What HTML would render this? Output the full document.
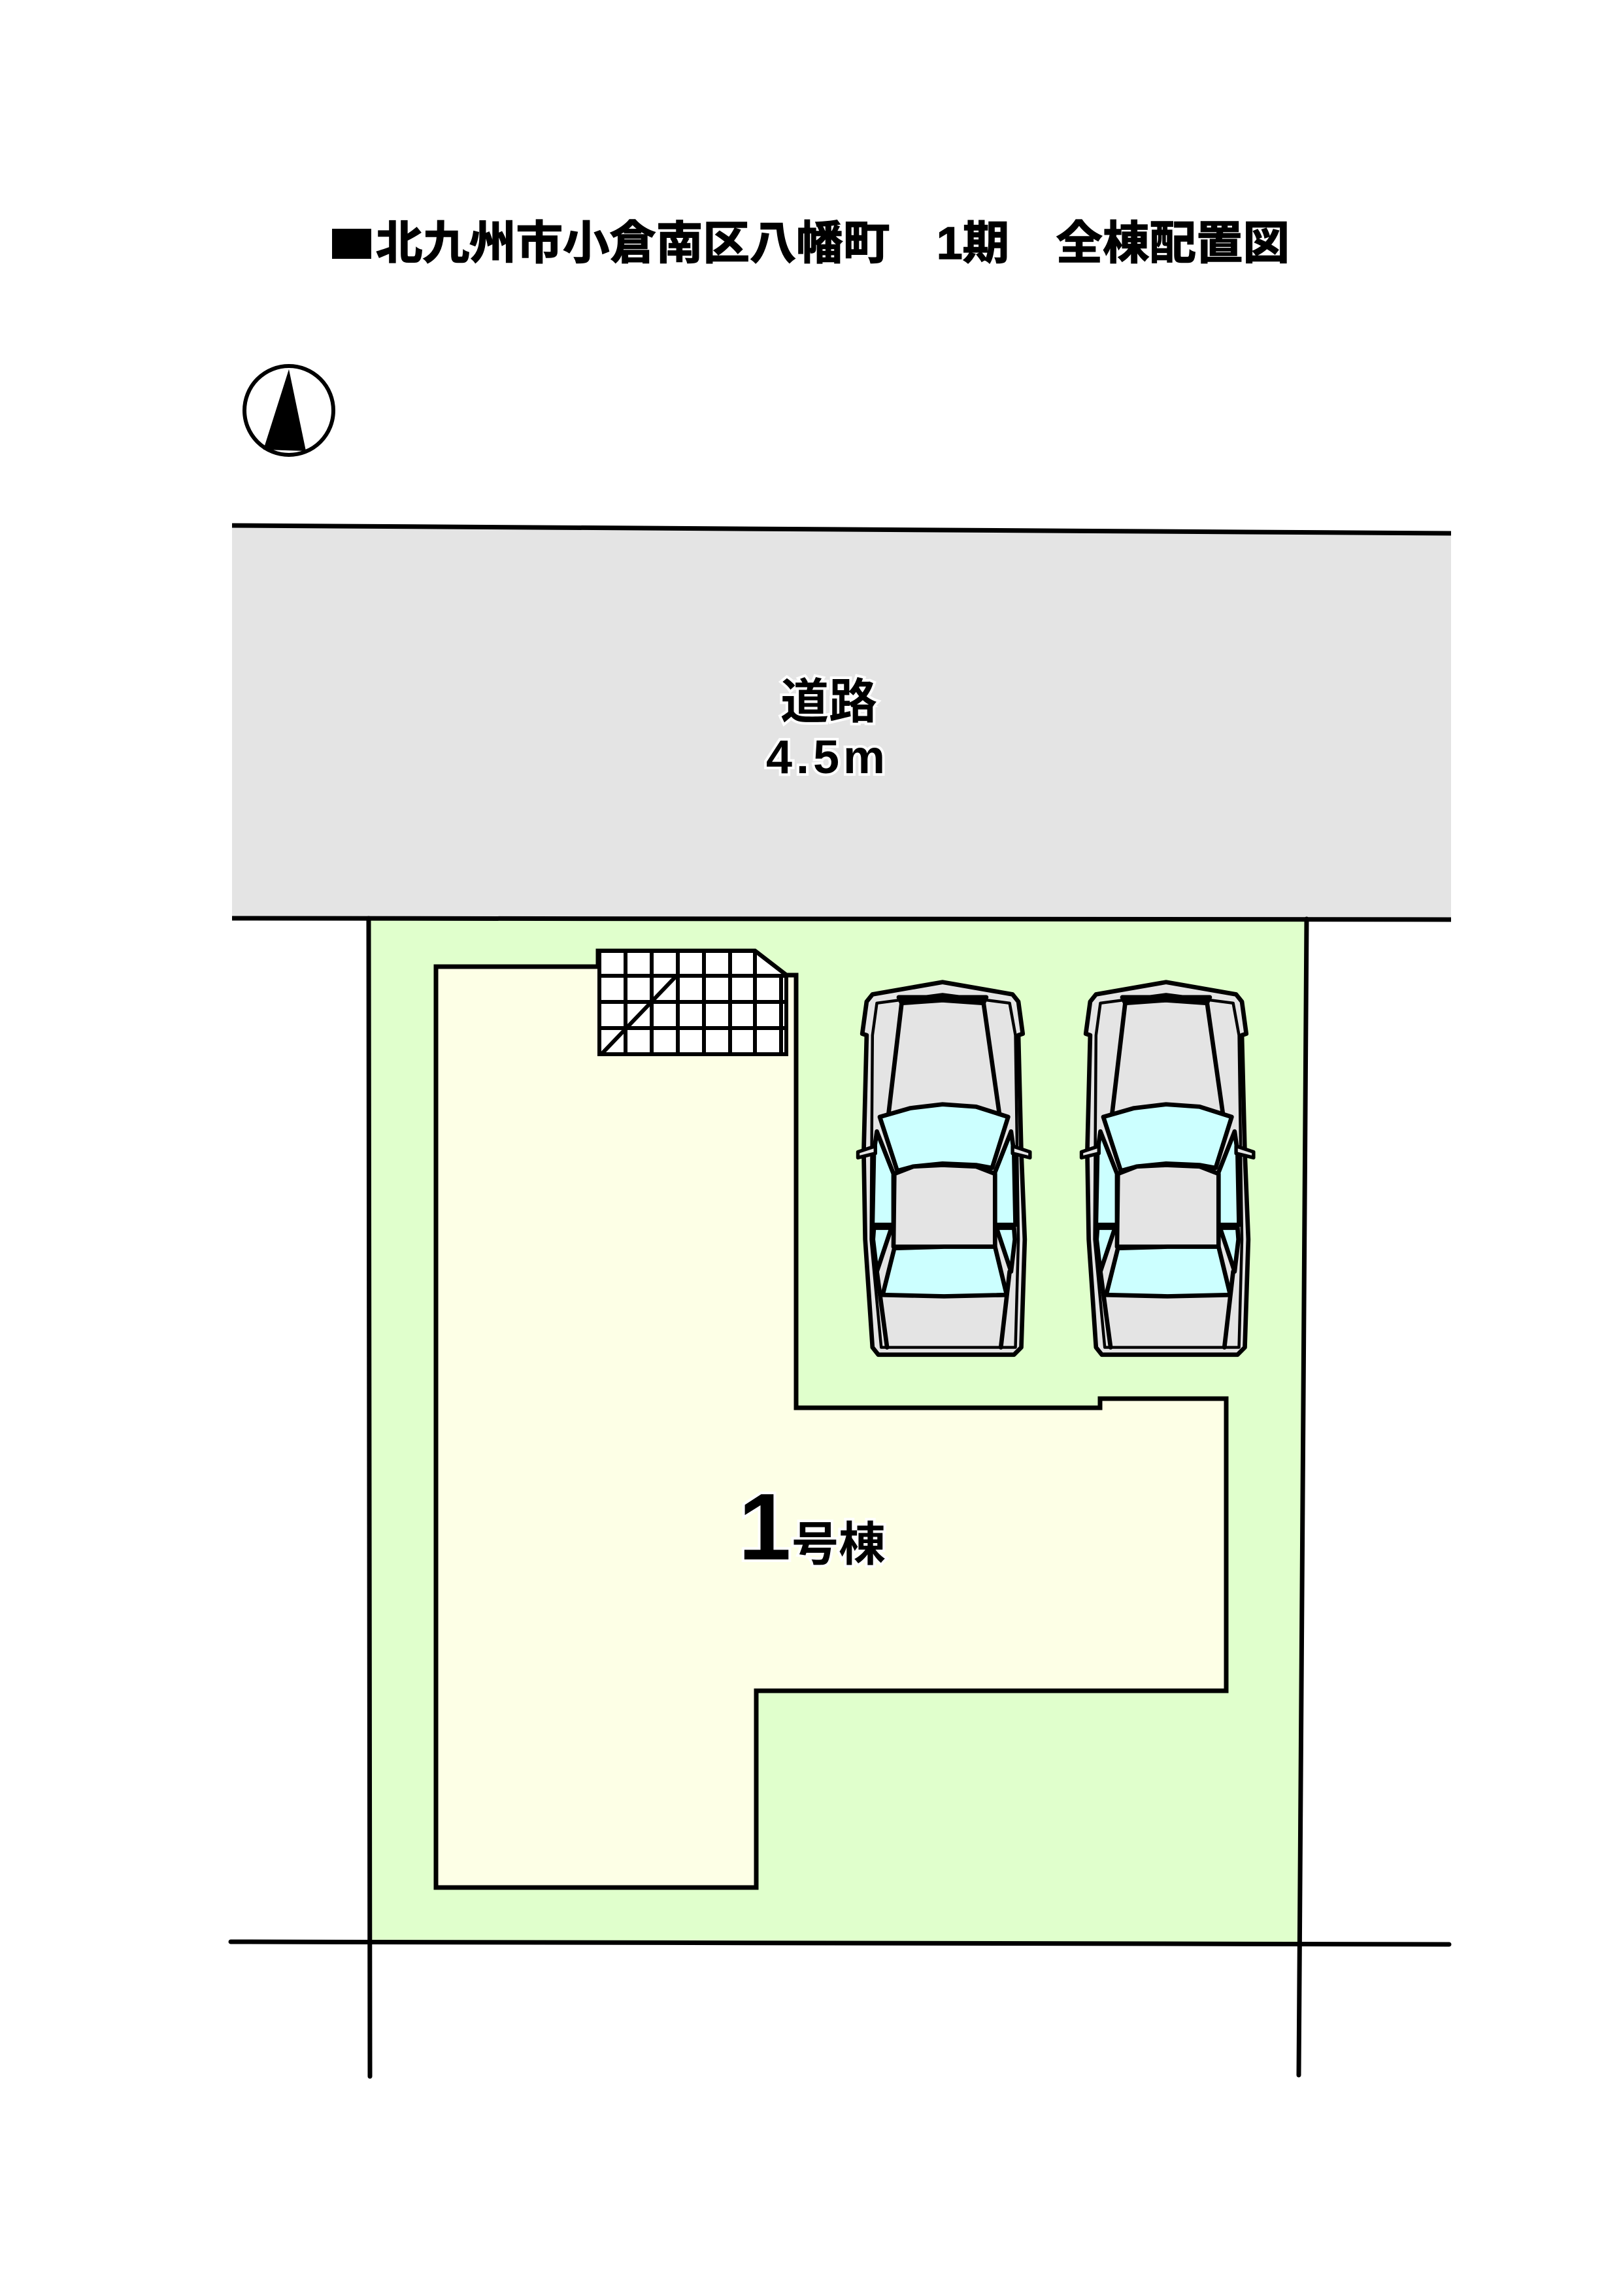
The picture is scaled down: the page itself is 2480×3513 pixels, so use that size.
<!DOCTYPE html>
<html><head><meta charset="utf-8"><style>
html,body{margin:0;padding:0;background:#fff}
body{width:2480px;height:3508px;overflow:hidden}
</style></head><body>
<svg width="2480" height="3508" viewBox="0 0 2480 3508" xmlns="http://www.w3.org/2000/svg">
<defs>
<g id="car" stroke="#000" stroke-width="15" stroke-linejoin="round" stroke-linecap="round">
  <path d="M190,160 L430,118 L670,160 L690,185 L705,295 L690,300 L700,700 L712,1000 L700,1370 L675,1395 L210,1395 L190,1370 L165,1000 L160,700 L170,300 L155,295 L170,185 Z" fill="#e4e4e4"/>
  <path d="M205,190 L430,160 L660,190 L680,300 L690,1000 L680,1370 L220,1370 L185,1000 L190,300 Z" fill="none" stroke-width="10"/>
  <path d="M280,170 L580,170 L570,190 L430,180 L290,190 Z" fill="#000"/>
  <path d="M205,630 L262,775 L262,950 L190,950 L195,700 Z" fill="#ccffff"/>
  <path d="M665,630 L608,775 L608,950 L680,950 L675,700 Z" fill="#ccffff"/>
  <path d="M195,960 L255,960 L205,1110 L192,1000 Z" fill="#ccffff"/>
  <path d="M675,960 L615,960 L665,1110 L678,1000 Z" fill="#ccffff"/>
  <path d="M215,580 L320,550 L430,537 L545,545 L655,580 L600,755 L545,745 L430,740 L330,750 L275,765 Z" fill="#ccffff"/>
  <path d="M265,775 L330,750 L430,745 L545,750 L610,775 L610,1025 L262,1025 Z" fill="#e4e4e4"/>
  <path d="M265,1030 L435,1025 L610,1025 L650,1190 L435,1195 L225,1190 Z" fill="#ccffff"/>
  <path d="M290,190 L245,570 M570,185 L625,570 M205,1110 L240,1370 M660,1110 L630,1370" fill="none"/>
  <path d="M200,680 L140,700 L140,720 L200,705 Z M670,680 L730,700 L730,720 L670,705 Z" fill="#e4e4e4" stroke-width="12"/>
</g>
</defs>
<rect x="508" y="350" width="60" height="46" fill="#000"/>
<text x="575" y="396" textLength="1398" lengthAdjust="spacingAndGlyphs" font-family="Liberation Sans, Noto Sans CJK JP, sans-serif" font-weight="bold" font-size="70" fill="#000" stroke="#000" stroke-width="1.5">北九州市小倉南区八幡町　1期　全棟配置図</text>
<circle cx="442" cy="628" r="68" fill="#fff" stroke="#000" stroke-width="6"/>
<path d="M442,565 L468,690 L403,688 Z" fill="#000"/>
<path d="M355,804 L2220,816 L2220,1405 L355,1405 Z" fill="#e4e4e4"/>
<line x1="355" y1="804" x2="2220" y2="816" stroke="#000" stroke-width="7"/>
<path d="M564,1405 L1999,1406 L1987,2975 L564,2973 Z" fill="#e0ffcc"/>
<line x1="355" y1="1405" x2="2220" y2="1407" stroke="#000" stroke-width="7"/>
<line x1="564" y1="1405" x2="566" y2="3177" stroke="#000" stroke-width="7" stroke-linecap="round"/>
<line x1="1999" y1="1406" x2="1987" y2="3175" stroke="#000" stroke-width="7" stroke-linecap="round"/>
<line x1="353" y1="2971" x2="2217" y2="2975" stroke="#000" stroke-width="7" stroke-linecap="round"/>
<path d="M667,1479 L915,1479 L915,1455 L1155,1455 L1203,1492 L1218,1492 L1218,2154 L1683,2154 L1683,2140 L1876,2140 L1876,2587 L1157,2587 L1157,2888 L667,2888 Z" fill="#fdffe6" stroke="#000" stroke-width="7"/>
<g stroke="#000" stroke-width="6" fill="none">
<path d="M917,1455 L1155,1455 L1203,1492 L1203,1613 L917,1613 Z" fill="#fff"/>
<path d="M957,1455V1613 M997,1455V1613 M1037,1455V1613 M1077,1455V1613 M1117,1455V1613 M1155,1455V1613 M1195,1492V1613 M917,1493H1203 M917,1533H1203 M917,1573H1203 M920,1613 L1033,1495"/>
</g>
<use href="#car" transform="translate(1250,1450) scale(0.4464)"/>
<use href="#car" transform="translate(1592,1450) scale(0.4464)"/>
<g font-family="Liberation Sans, Noto Sans CJK JP, sans-serif" font-weight="bold" fill="#000" stroke="#fff" stroke-width="8" paint-order="stroke" text-anchor="middle">
<text x="1268" y="1099" font-size="74">道路</text>
<text x="1266" y="1183" font-size="72" letter-spacing="6">4.5m</text>
<text x="1170" y="2386" font-size="145">1</text>
<text x="1283" y="2388" font-size="72">号棟</text>
</g>
</svg>
</body></html>
